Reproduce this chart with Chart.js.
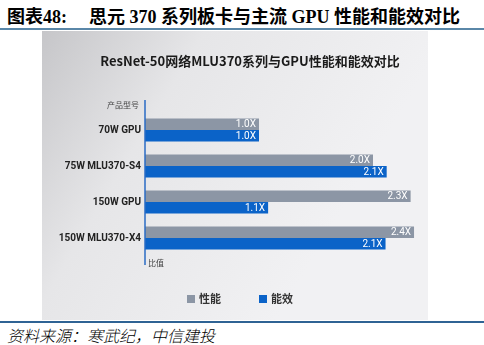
<!DOCTYPE html>
<html>
<head>
<meta charset="utf-8">
<script src="https://cdn.jsdelivr.net/npm/chart.js@4.4.1/dist/chart.umd.min.js"></script>
<style>
body { margin: 0; width: 484px; height: 345px; background: #fff; position: relative; overflow: hidden; }
#head { position: absolute; left: 7px; top: 2px; font: bold 18px "Liberation Serif", "Noto Sans CJK SC"; white-space: nowrap; color: #000; }
#head span { display: inline-block; margin-left: 22px; }
#topline { position: absolute; left: 0; top: 28px; width: 484px; height: 2px; background: #5a87a8; }
#box { position: absolute; left: 42px; top: 31px; width: 386px; height: 289px; }
#botline { position: absolute; left: 0; top: 321px; width: 484px; height: 2px; background: #2f6394; }
#src { position: absolute; left: 7px; top: 323px; font: italic 300 16px "Noto Sans CJK SC"; color: #000; white-space: nowrap; }
</style>
</head>
<body>
<div id="head">图表48:<span>思元 370 系列板卡与主流 GPU 性能和能效对比</span></div>
<div id="topline"></div>
<div id="box"><canvas id="c" width="386" height="289"></canvas></div>
<div id="botline"></div>
<div id="src">资料来源：寒武纪，中信建投</div>
<script>
// data
const categories = ['70W GPU', '75W MLU370-S4', '150W GPU', '150W MLU370-X4']
const perf = [1.0, 2.0, 2.33, 2.36]
const perfLabels = ['1.0X', '2.0X', '2.3X', '2.4X']
const eff = [1.0, 2.12, 1.08, 2.11]
const effLabels = ['1.0X', '2.1X', '1.1X', '2.1X']
const seriesNames = ['性能', '能效']
const chartTitle = 'ResNet-50网络MLU370系列与GPU性能和能效对比'

const grey = '#8c96a5'
const blue = '#0b63c8'

// grey gradient backdrop of the picture
const bgPlugin = {
  id: 'bg',
  beforeDraw(chart) {
    const ctx = chart.ctx
    const g = ctx.createLinearGradient(0, 0, 300, 180)
    g.addColorStop(0, '#c6c6c9')
    g.addColorStop(0.4, '#e6e6e8')
    g.addColorStop(1, '#f1f1f3')
    ctx.save()
    ctx.fillStyle = g
    ctx.fillRect(0, 0, chart.width, chart.height)
    ctx.restore()
  }
}

// title, axis line, axis captions, value labels and legend
const extras = {
  id: 'extras',
  afterDatasetsDraw(chart) {
    const ctx = chart.ctx
    const a = chart.chartArea
    ctx.save()
    ctx.textBaseline = 'middle'

    ctx.fillStyle = '#1a1a1a'
    ctx.font = 'bold 13px "Noto Sans CJK SC"'
    ctx.textAlign = 'center'
    ctx.fillText(chartTitle, 208, 30)

    ctx.strokeStyle = '#2a6bc4'
    ctx.lineWidth = 1.5
    ctx.beginPath()
    ctx.moveTo(a.left, a.top - 12)
    ctx.lineTo(a.left, a.bottom + 9)
    ctx.stroke()

    ctx.fillStyle = '#444'
    ctx.font = '8px "Noto Sans CJK SC"'
    ctx.textAlign = 'right'
    ctx.fillText('产品型号', a.left - 6, a.top - 7)
    ctx.textAlign = 'left'
    ctx.fillText('比值', a.left + 3, a.bottom + 7)

    // value labels inside the bar ends
    const lbls = [perfLabels, effLabels]
    ctx.font = '10px "Roboto"'
    ctx.fillStyle = '#fff'
    ctx.textAlign = 'right'
    chart.data.datasets.forEach((ds, di) => {
      chart.getDatasetMeta(di).data.forEach((bar, i) => {
        ctx.fillText(lbls[di][i], bar.x - 3, bar.y + 0.5)
      })
    })

    // legend
    ctx.font = 'bold 11px "Noto Sans CJK SC"'
    ctx.textAlign = 'left'
    const xs = [145, 217]
    const ly = 268
    chart.data.datasets.forEach((ds, di) => {
      ctx.fillStyle = ds.backgroundColor
      ctx.fillRect(xs[di], ly - 4, 8, 8)
      ctx.fillStyle = '#333'
      ctx.fillText(ds.label, xs[di] + 12, ly)
    })
    ctx.restore()
  }
}

new Chart(document.getElementById('c'), {
  type: 'bar',
  data: {
    labels: categories,
    datasets: [
      { label: seriesNames[0], data: perf, backgroundColor: grey },
      { label: seriesNames[1], data: eff, backgroundColor: blue }
    ]
  },
  options: {
    indexAxis: 'y',
    responsive: false,
    animation: false,
    categoryPercentage: 0.64,
    barPercentage: 1,
    layout: { padding: { left: 0, right: 9.4, top: 81, bottom: 64 } },
    plugins: {
      legend: { display: false },
      tooltip: { enabled: false },
      title: { display: false }
    },
    scales: {
      x: { display: false, min: 0, max: 2.4 },
      y: {
        grid: { display: false, drawTicks: false },
        border: { display: false },
        ticks: { color: '#222', padding: 4, font: { family: 'Roboto', size: 10, weight: 'bold' } },
        afterFit(s) { s.width = 103 }
      }
    }
  },
  plugins: [bgPlugin, extras]
})
</script>
</body>
</html>
